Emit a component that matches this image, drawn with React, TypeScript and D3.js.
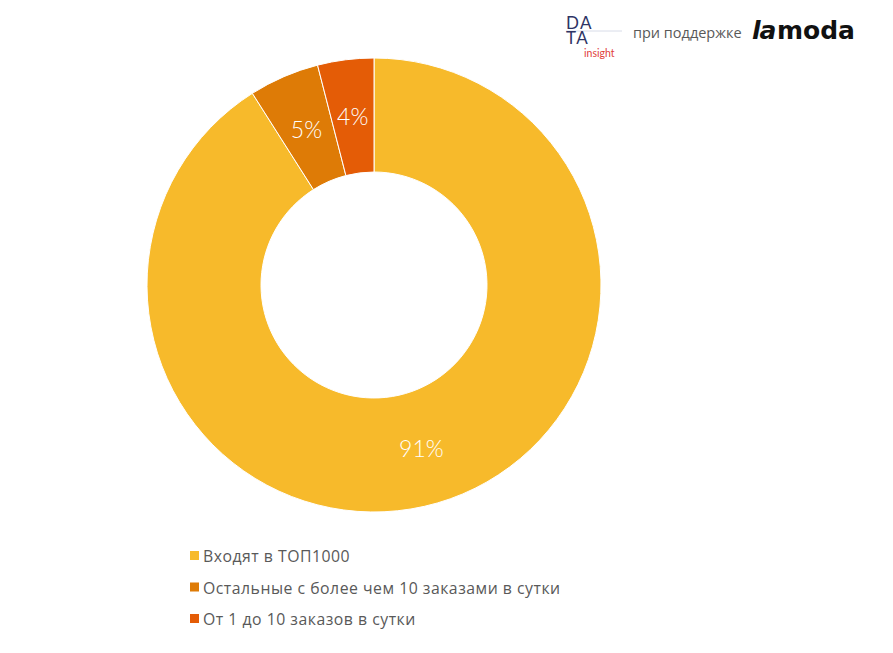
import React from "react";
import * as d3 from "d3";

const categories = [
  "Входят в ТОП1000",
  "Остальные с более чем 10 заказами в сутки",
  "От 1 до 10 заказов в сутки",
];
const values = [91, 5, 4];
const labels = ["91%", "5%", "4%"];
const colors = ["#F7BA2B", "#DE7B06", "#E45C06"];

export default function App() {
  const W = 893, H = 653;
  const cx = 374, cy = 285, R = 227, r0 = 113;
  const pie = d3.pie<number>().sort(null).value((d) => d)(values);
  const arc = d3.arc<d3.PieArcDatum<number>>().innerRadius(r0).outerRadius(R);
  const font = "'Lato', 'Noto Sans', sans-serif";
  const legendFont = "'Open Sans', 'Noto Sans', sans-serif";
  return (
    <svg width={W} height={H} style={{ position: "absolute", left: 0, top: 0, background: "#fff" }}>
      <rect width={W} height={H} fill="#fff" />
      <g transform={`translate(${cx},${cy})`}>
        {pie.map((p, i) => (
          <path key={i} d={arc(p) || ""} fill={colors[i]} stroke="#fff" strokeWidth={1} />
        ))}
        {pie.map((p, i) => {
          const [x, y] = arc.centroid(p);
          return (
            <text key={"l" + i} x={x} y={y} textAnchor="middle" dominantBaseline="central"
              fill="#fff" fontFamily={font} fontWeight={300} fontSize={23}>
              {labels[i]}
            </text>
          );
        })}
      </g>
      {categories.map((c, i) => (
        <g key={"lg" + i} transform={`translate(190,${556 + i * 31.5})`}>
          <rect x={0} y={-5} width={9} height={9} fill={colors[i]} />
          <text x={13} y={0} dominantBaseline="central" fontFamily={legendFont} fontSize={15.8}
            letterSpacing={0.5} fill="#595959">
            {c}
          </text>
        </g>
      ))}
      {/* logos */}
      <line x1={566} y1={31} x2={622} y2={31} stroke="#D8DCE8" strokeWidth={1} />
      <text x={566} y={29} fontFamily={font} fontSize={17} fill="#2E3464" letterSpacing={1.5}>DA</text>
      <text x={566} y={44} fontFamily={font} fontSize={17} fill="#2E3464" letterSpacing={1.5}>TA</text>
      <text x={584} y={57} fontFamily={font} fontSize={10.5} fill="#E0403A">insight</text>
      <text x={633} y={38} fontFamily={legendFont} fontSize={14.5} fill="#595959">при поддержке</text>
      <text x={752} y={39} fontFamily="'DejaVu Sans', sans-serif" fontSize={25} fontWeight={700} fill="#111" fontStyle="italic" letterSpacing={-1}>la</text>
      <text x={777} y={39} fontFamily="'DejaVu Sans', sans-serif" fontSize={25} fontWeight={700} fill="#111">moda</text>
    </svg>
  );
}
